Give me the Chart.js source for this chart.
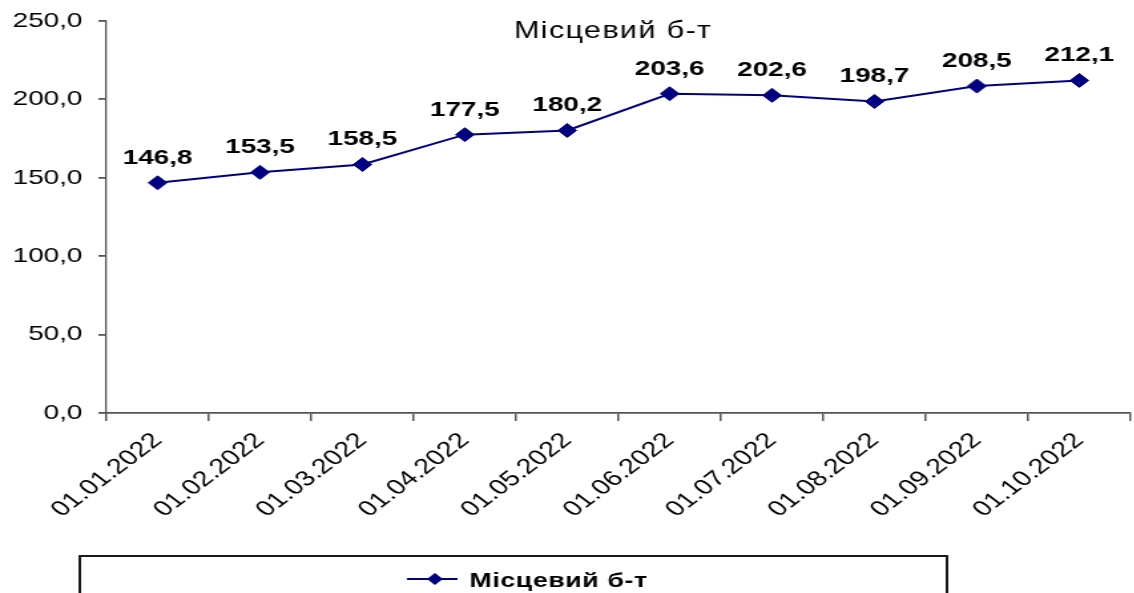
<!DOCTYPE html>
<html>
<head>
<meta charset="utf-8">
<script src="https://cdn.jsdelivr.net/npm/chart.js@4/dist/chart.umd.min.js"></script>
<style>
html,body{margin:0;padding:0;background:#fff;overflow:hidden;width:1134px;height:593px;}
#wrap{width:1134px;height:593px;position:relative;overflow:hidden;}
#c{position:absolute;left:0;top:0;transform:scaleX(1.33);transform-origin:0 0;}
</style>
</head>
<body>
<div id="wrap"><canvas id="c" width="858" height="593"></canvas></div>
<script>
const categories = ["01.01.2022","01.02.2022","01.03.2022","01.04.2022","01.05.2022","01.06.2022","01.07.2022","01.08.2022","01.09.2022","01.10.2022"];
const seriesName = "Місцевий б-т";
const values = [146.8,153.5,158.5,177.5,180.2,203.6,202.6,198.7,208.5,212.1];
const yTicks = [0,50,100,150,200,250];

const fmt = v => v.toFixed(1).replace('.', ',');
const FONT = "'Liberation Sans', Arial, sans-serif";
const NAVY = '#000080';

const overlay = {
  id: 'overlay',
  afterDatasetsDraw(chart) {
    const ctx = chart.ctx;
    const meta = chart.getDatasetMeta(0);
    ctx.save();
    ctx.fillStyle = '#000';
    ctx.font = 'bold 21px ' + FONT;
    ctx.textAlign = 'center';
    ctx.textBaseline = 'alphabetic';
    meta.data.forEach((pt, i) => {
      ctx.fillText(fmt(values[i]), pt.x, pt.y - 19);
    });
    // title inside plot area
    ctx.font = '23px ' + FONT;
    ctx.letterSpacing = '1px';
    ctx.fillText(seriesName, 461, 38);
    ctx.letterSpacing = '0px';
    // legend box
    ctx.strokeStyle = '#000';
    ctx.lineWidth = 1.8;
    ctx.strokeRect(60, 556, 652, 60);
    ctx.strokeStyle = NAVY;
    ctx.lineWidth = 2;
    ctx.beginPath();
    ctx.moveTo(306, 579);
    ctx.lineTo(344, 579);
    ctx.stroke();
    ctx.fillStyle = NAVY;
    ctx.beginPath();
    ctx.moveTo(327, 573); ctx.lineTo(333, 579); ctx.lineTo(327, 585); ctx.lineTo(321, 579); ctx.closePath();
    ctx.fill();
    ctx.fillStyle = '#000';
    ctx.font = 'bold 20px ' + FONT;
    ctx.letterSpacing = '0.5px';
    ctx.textAlign = 'left';
    ctx.textBaseline = 'alphabetic';
    ctx.fillText(seriesName, 353, 587);
    ctx.restore();
  }
};

new Chart(document.getElementById('c'), {
  type: 'line',
  data: {
    labels: categories,
    datasets: [{
      label: seriesName,
      data: values,
      borderColor: NAVY,
      backgroundColor: NAVY,
      borderWidth: 2,
      pointStyle: 'rectRot',
      pointRadius: 7,
      pointBackgroundColor: NAVY,
      pointBorderColor: NAVY,
      pointBorderWidth: 1,
      tension: 0
    }]
  },
  options: {
    responsive: false,
    animation: false,
    devicePixelRatio: 1,
    layout: { padding: { top: 21, right: 1, left: 0, bottom: 0 } },
    plugins: { legend: { display: false }, title: { display: false }, tooltip: { enabled: false } },
    scales: {
      x: {
        type: 'category',
        offset: true,
        grid: { display: true, offset: true, drawOnChartArea: false, drawTicks: true, tickLength: 8, color: '#555', lineWidth: 1.5 },
        border: { display: true, color: '#555', width: 1.8 },
        ticks: {
          minRotation: 45, maxRotation: 45, autoSkip: false,
          color: '#000', font: { family: FONT, size: 21.5 }, padding: 7
        },
        afterFit(scale) { scale.height = 180; scale.paddingLeft = 0; scale.paddingRight = 0; }
      },
      y: {
        min: 0, max: 250,
        afterBuildTicks(scale) { scale.ticks = yTicks.map(v => ({ value: v })); },
        grid: { display: true, drawOnChartArea: false, drawTicks: true, tickLength: 6, color: '#555', lineWidth: 1.8 },
        border: { display: true, color: '#555', width: 1.3 },
        ticks: {
          color: '#000', font: { family: FONT, size: 21 }, padding: 12,
          callback: v => fmt(v)
        },
        afterFit(scale) { scale.width = 80; scale.paddingTop = 0; scale.paddingBottom = 0; }
      }
    }
  },
  plugins: [overlay]
});
</script>
</body>
</html>
